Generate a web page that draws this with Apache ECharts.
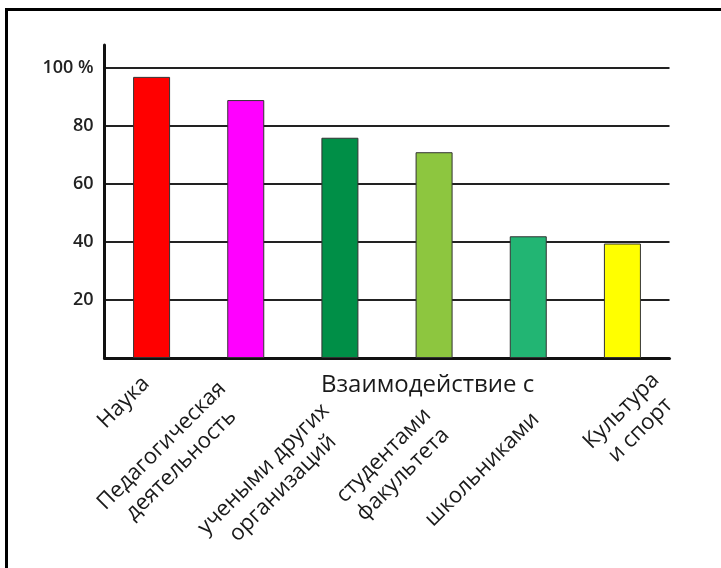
<!DOCTYPE html>
<html>
<head>
<meta charset="utf-8">
<script src="https://cdn.jsdelivr.net/npm/echarts@6/dist/echarts.min.js"></script>
<style>
html,body{margin:0;padding:0;background:#fff;}
#chart{width:721px;height:568px;}
</style>
</head>
<body>
<div id="chart"></div>
<script>
const categories = ['Наука', 'Педагогическая\nдеятельность', 'учеными других\nорганизаций', 'студентами\nфакультета', 'школьниками', 'Культура\nи спорт'];
const values = [97, 89, 76, 71, 42, 39.5];
const barColors = ['#FF0000', '#FF00FF', '#008F47', '#8DC63F', '#22B573', '#FFFF00'];
const yTicks = [20, 40, 60, 80, 100];
const groupLabel = 'Взаимодействие с';
// per-label nudges (padding top, right) to mimic the hand-placed labels
const labelPad = [[46, 31], [55, 47], [99, 56], [116, 54], [115, 47], [123, 1]];

const chart = echarts.init(document.getElementById('chart'));
chart.setOption({
  animation: false,
  backgroundColor: '#fff',
  grid: { left: 104.5, right: 51.5, top: 45, bottom: 210 },
  xAxis: {
    type: 'category',
    data: categories.map((c, i) => ({ value: c, textStyle: { padding: [labelPad[i][0], labelPad[i][1], 0, 0] } })),
    axisLine: { lineStyle: { color: '#111', width: 3 } },
    axisTick: { show: false },
    axisLabel: {
      interval: 0,
      rotate: 45,
      margin: -16,
      fontFamily: 'Open Sans',
      fontSize: 22,
      color: '#1a1a1a',
      lineHeight: 27,
      formatter: function (v) { return v.split('\n').map(s => '{c|' + s + '}').join('\n'); },
      rich: { c: { align: 'center', fontFamily: 'Open Sans', fontSize: 22, lineHeight: 27, color: '#1a1a1a' } }
    }
  },
  yAxis: {
    type: 'value',
    min: 0,
    max: 108,
    interval: 20,
    axisLine: { show: true, lineStyle: { color: '#111', width: 3 } },
    axisTick: { show: false },
    splitLine: { show: true, showMinLine: false, showMaxLine: false, lineStyle: { color: '#222', width: 2 } },
    axisLabel: {
      margin: 11,
      showMaxLabel: false,
      fontFamily: 'Open Sans',
      fontSize: 18,
      fontWeight: 600,
      color: '#222',
      formatter: function (v) { return yTicks.indexOf(v) < 0 ? '' : (v === 100 ? v + ' %' : String(v)); }
    }
  },
  series: [{
    type: 'bar',
    barWidth: 37,
    data: values.map((v, i) => ({ value: v, itemStyle: { color: barColors[i] } })),
    itemStyle: { borderColor: '#333', borderWidth: 1 }
  }],
  graphic: [
    { type: 'rect', shape: { x: 6.5, y: 9.5, width: 730, height: 600 }, style: { fill: 'none', stroke: '#000', lineWidth: 3 } },
    { type: 'text', x: 321, y: 385, style: { text: groupLabel, fontFamily: 'Open Sans', fontSize: 24, fill: '#1a1a1a', align: 'left', verticalAlign: 'middle' } }
  ]
});
</script>
</body>
</html>
